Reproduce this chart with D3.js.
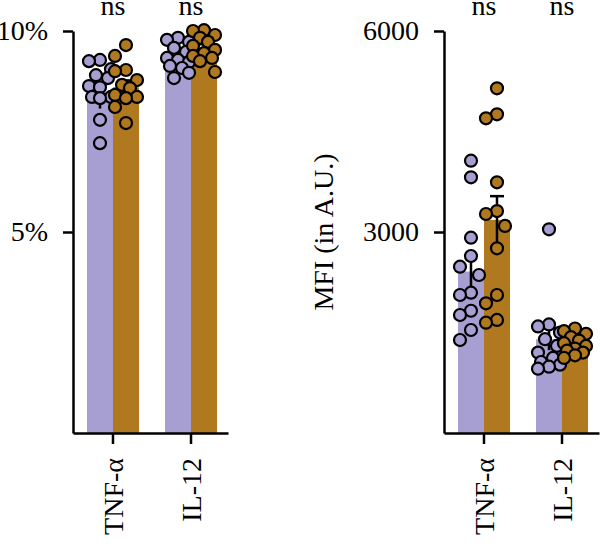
<!DOCTYPE html>
<html>
<head>
<meta charset="utf-8">
<script src="https://cdn.jsdelivr.net/npm/d3@7"></script>
<style>
  body { margin: 0; background: #fff; }
  text { font-family: "Liberation Serif", "DejaVu Serif", serif; }
</style>
</head>
<body>
<div id="chart"></div>
<script>
// categories on both panels
var cats = ["TNF-α", "IL-12"];
var colors = ["#a79fd2", "#b0781f"];

// left panel: % positive cells
var pctTnfA = [9.28, 9.25, 9.05, 8.9, 8.83, 8.63, 8.6, 8.36, 8.36, 8.33, 7.79, 7.21];
var pctTnfB = [9.65, 9.38, 9.03, 9.0, 8.78, 8.66, 8.58, 8.41, 8.36, 8.33, 8.11, 7.71];
var pctIl12A = [9.83, 9.78, 9.73, 9.58, 9.48, 9.33, 9.28, 9.23, 9.13, 9.08, 8.96, 8.83];
var pctIl12B = [10.02, 10.0, 9.9, 9.83, 9.73, 9.63, 9.53, 9.45, 9.38, 9.33, 9.25, 8.98];
var pctMeans = [[8.25, 8.6], [9.35, 9.58]];
var pctSems = [[0.18, 0.17], [0.09, 0.09]];
var pctTicks = [5, 10];

// right panel: MFI
var mfiTnfA = [4064, 3816, 2915, 2642, 2482, 2358, 2094, 2060, 1825, 1761, 1537, 1388];
var mfiTnfB = [5145, 4757, 4697, 3742, 3313, 3269, 3090, 2757, 2060, 1936, 1687, 1646];
var mfiIl12A = [3040, 1620, 1590, 1500, 1400, 1300, 1200, 1120, 1060, 1020, 990, 960];
var mfiIl12B = [1560, 1520, 1480, 1430, 1380, 1340, 1300, 1260, 1230, 1200, 1160, 1120];
var mfiMeans = [[2410, 3180], [1400, 1330]];
var mfiSems = [[240, 355], [164, 40]];
var mfiTicks = [3000, 6000];

var sigLabels = ["ns", "ns"];

var W = 600, H = 544, y0 = 433, yTop = 31, fs = 28, r = 6;

var svg = d3.select("#chart").append("svg").attr("width", W).attr("height", H);

// simple beeswarm: spread dots sideways when they are close vertically
function swarm(vals, y) {
  var pts = vals.map(function(v) { return {v: v, y: y(v)}; })
    .sort(function(a, b) { return a.y - b.y; });
  var offs = [0, -8, 8, -4, 4, -11, 11];
  var placed = [];
  pts.forEach(function(d) {
    var best = 0, bestD = -1;
    for (var i = 0; i < offs.length; i++) {
      var md = placed.length ? d3.min(placed, function(p) { return Math.hypot(p.dx - offs[i], p.y - d.y); }) : Infinity;
      if (md >= 2 * r + 3) { best = offs[i]; break; }
      if (md > bestD) { bestD = md; best = offs[i]; }
    }
    d.dx = best;
    placed.push(d);
  });
  return pts;
}

function panel(o) {
  var x = d3.scaleBand().domain(cats).range(o.xr)
    .paddingInner(1 / 3).paddingOuter(0.16).align(0.56);
  var sub = d3.scaleBand().domain([0, 1]).range([0, x.bandwidth()]);
  var y = d3.scaleLinear().domain([0, o.max]).range([y0, yTop]);

  var rows = [];
  cats.forEach(function(c, ci) {
    [0, 1].forEach(function(k) {
      rows.push({cat: c, k: k, mean: o.means[ci][k], sem: o.sems[ci][k], vals: o.vals[ci][k]});
    });
  });

  var g = svg.append("g");

  g.selectAll(".bar").data(rows).enter().append("rect")
    .attr("class", "bar")
    .attr("x", function(d) { return x(d.cat) + sub(d.k); })
    .attr("y", function(d) { return y(d.mean); })
    .attr("width", sub.bandwidth())
    .attr("height", function(d) { return y(0) - y(d.mean); })
    .attr("fill", function(d) { return colors[d.k]; });

  // error bars (mean ± sem)
  var eb = g.selectAll(".err").data(rows).enter().append("g").attr("class", "err")
    .attr("transform", function(d) { return "translate(" + (x(d.cat) + sub(d.k) + sub.bandwidth() / 2) + ",0)"; })
    .attr("stroke", "#000").attr("stroke-width", 2.5);
  eb.append("line").attr("y1", function(d) { return y(d.mean + d.sem); }).attr("y2", function(d) { return y(d.mean - d.sem); });
  eb.append("line").attr("x1", -7).attr("x2", 7)
    .attr("y1", function(d) { return y(d.mean + d.sem); }).attr("y2", function(d) { return y(d.mean + d.sem); });

  // dots
  rows.forEach(function(d) {
    var cx = x(d.cat) + sub(d.k) + sub.bandwidth() / 2;
    g.append("g").selectAll("circle").data(swarm(d.vals, y)).enter().append("circle")
      .attr("cx", function(p) { return cx + p.dx; })
      .attr("cy", function(p) { return p.y; })
      .attr("r", r)
      .attr("fill", colors[d.k])
      .attr("stroke", "#000")
      .attr("stroke-width", 2.2);
  });

  // y axis
  var ya = g.append("g").attr("transform", "translate(" + o.xr[0] + ",0)")
    .call(d3.axisLeft(y).tickValues(o.ticks).tickFormat(o.fmt).tickSize(10).tickSizeOuter(0).tickPadding(15));
  ya.select(".domain").attr("stroke-width", 2.5);
  ya.selectAll(".tick line").attr("stroke-width", 2.5);
  ya.selectAll("text").attr("font-size", fs).attr("font-family", "Liberation Serif, serif").attr("fill", "#000");

  // x axis
  var xa = g.append("g").attr("transform", "translate(0," + y0 + ")")
    .call(d3.axisBottom(x).tickSize(11).tickSizeOuter(0));
  xa.select(".domain").attr("stroke-width", 2.5);
  xa.selectAll(".tick line").attr("stroke-width", 2.5);
  xa.selectAll("text")
    .attr("transform", "rotate(-90)")
    .attr("x", -25).attr("y", 0).attr("dy", "0.35em")
    .attr("text-anchor", "end")
    .attr("font-size", fs).attr("font-family", "Liberation Serif, serif").attr("fill", "#000");

  // significance labels
  g.selectAll(".sig").data(cats).enter().append("text")
    .attr("x", function(c) { return x(c) + x.bandwidth() / 2; })
    .attr("y", 15)
    .attr("text-anchor", "middle")
    .attr("font-size", fs)
    .text(function(c, i) { return sigLabels[i]; });

  if (o.label) {
    g.append("text")
      .attr("transform", "translate(" + o.labelX + "," + ((y0 + yTop) / 2) + ") rotate(-90)")
      .attr("text-anchor", "middle")
      .attr("font-size", fs)
      .text(o.label);
  }
}

panel({
  xr: [73, 228], max: 10, ticks: pctTicks, fmt: function(d) { return d + "%"; },
  means: pctMeans, sems: pctSems,
  vals: [[pctTnfA, pctTnfB], [pctIl12A, pctIl12B]]
});

panel({
  xr: [444, 599], max: 6000, ticks: mfiTicks, fmt: function(d) { return d; },
  means: mfiMeans, sems: mfiSems,
  vals: [[mfiTnfA, mfiTnfB], [mfiIl12A, mfiIl12B]],
  label: "MFI (in A.U.)", labelX: 333
});
</script>
</body>
</html>
